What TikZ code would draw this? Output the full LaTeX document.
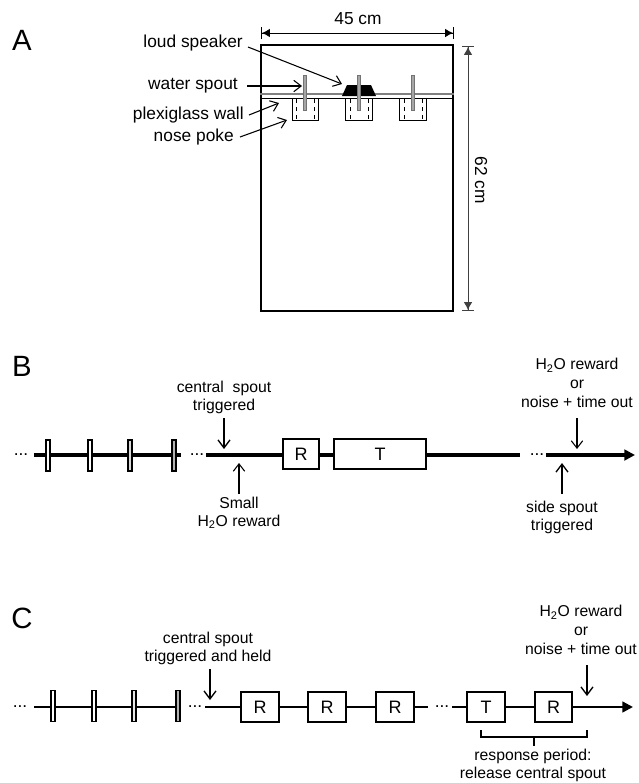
\documentclass[tikz,border=0pt]{standalone}
\usepackage{fontspec}
\setmainfont{Liberation Sans}
\usetikzlibrary{arrows.meta}
\tikzset{
  lab/.style={font=\fontsize{11.8}{13.5}\selectfont,inner sep=0pt,align=center},
  labA/.style={font=\fontsize{13}{15}\selectfont,inner sep=0pt,align=center},
  panel/.style={font=\fontsize{22}{24}\selectfont,inner sep=0pt},
  call/.style={line width=0.8pt,-{Straight Barb[length=5.5pt,width=8.5pt,line width=0.8pt]}},
  callb/.style={line width=1.3pt,-{Straight Barb[length=6pt,width=9pt,line width=1pt]}},
  track/.style={line width=2.3pt},
  thin track/.style={line width=1.8pt},
  epoch/.style={draw,line width=1.3pt,fill=white,font=\fontsize{13.5}{15}\selectfont,inner sep=0pt,minimum height=23pt},
  tick/.style={draw,line width=1.1pt,fill=#1,inner sep=0pt,minimum width=3.2pt,minimum height=23.5pt},
  dotsn/.style={font=\fontsize{13}{15}\selectfont,inner sep=0pt},
  spout/.style={draw=black!55,fill=gray!70,line width=0.4pt},
  poke/.style={draw,line width=0.7pt,fill=white},
  dim/.style={line width=0.7pt,{Bar[width=9pt]Latex[length=6pt,width=6.5pt]}-{Latex[length=6pt,width=6.5pt]Bar[width=9pt]}},
}
\begin{document}
\begin{tikzpicture}[x=0.75pt,y=-0.75pt]
\useasboundingbox (0,0) rectangle (639,783);
% Panel labels
\node[panel] at (22,40) {A};
\node[panel] at (22,366) {B};
\node[panel] at (22,618) {C};
% A: arena
\node[draw,line width=1.4pt,minimum width=144pt,minimum height=199.5pt,inner sep=0pt] (arena) at (357,178) {};
\draw[line width=0.8pt,gray] (arena.west |- 0,94) -- (arena.east |- 0,94);
\draw[line width=0.7pt] (arena.west |- 0,98) -- (arena.east |- 0,98);
% nose pokes
\foreach \n/\x in {a/305.5,b/359,c/413}{
  \node[poke,minimum width=20pt,minimum height=16.5pt,inner sep=0pt] (poke\n) at (\x,109) {};
  \draw[dashed,line width=0.5pt] (\x-9,99) -- (\x-9,120);
  \draw[dashed,line width=0.5pt] (\x+9,99) -- (\x+9,120);
}
% speaker
\fill (347,85) -- (371,85) -- (376,96) -- (342,96) -- cycle;
\coordinate (speaker) at (342,84);
% spouts
\foreach \n/\x in {a/305,b/359,c/413}{
  \node[spout,minimum width=2.4pt,minimum height=26pt,inner sep=0pt] (spout\n) at (\x,92.5) {};
}
% A dims
\coordinate (dl) at (261,33); \coordinate (dr) at (454,33);
\draw[dim] (dl) -- (dr);
\node[labA] (w) at (358,19) {45 cm};
\coordinate (dt) at (468,46); \coordinate (db) at (468,311);
\draw[dim,draw=black!75] (dt) -- (db);
\node[labA,rotate=-90] (h) at (481,180) {62 cm};
% A labels
\node[labA,anchor=east] (l1) at (243,43) {loud speaker};
\node[labA,anchor=east] (l2) at (238,86) {water spout};
\node[labA,anchor=east] (l3) at (244,115) {plexiglass wall};
\node[labA,anchor=east] (l4) at (234,137) {nose poke};
\coordinate (c1) at (248,47); \coordinate (c2) at (247,86); \coordinate (c3) at (249,115); \coordinate (c4) at (240,137);
\coordinate (t2) at (302,86); \coordinate (t3) at (279,103); \coordinate (t4) at (287,120);
\draw[call] (c1) -- (speaker);
\draw[call] (c2) -- (t2);
\draw[call] (c3) -- (t3);
\draw[call] (c4) -- (t4);
% B
\node[dotsn] (bd1) at (21,455) {...};
\node[dotsn] (bd2) at (197,455) {...};
\node[dotsn] (bd3) at (537,455) {...};
\coordinate (bs1) at (34,455); \coordinate (be1) at (181,455);
\coordinate (bs2) at (206,455); \coordinate (bs3) at (546,455); \coordinate (be3) at (635,455);
\coordinate (bm) at (520,455);
\draw[track] (bs1) -- (be1);
\foreach \n/\x/\c in {a/48/white,b/90/white,c/130/gray!30,d/174/gray!60}{
  \node[tick=\c] (bt\n) at (\x,455.5) {};
}
\node[epoch,minimum width=27.5pt] (br) at (301,454) {R};
\node[epoch,minimum width=69.5pt] (bT) at (380,454) {T};
\draw[track] (bs2) -- (br.west |- bs2);
\draw[track] (br.east |- bs2) -- (bT.west |- bs2);
\draw[track] (bT.east |- bs2) -- (bm);
\draw[track,-{Triangle[length=8pt,width=8pt]}] (bs3) -- (be3);
\node[lab] (b1) at (224,397) {central\ \ spout\\triggered};
\coordinate (b1a) at (224,418); \coordinate (b1b) at (224,449);
\draw[callb] (b1a) -- (b1b);
\node[lab] (b2) at (239,513) {Small\\H\textsubscript{2}O reward};
\coordinate (b2a) at (239,494); \coordinate (b2b) at (239,463);
\draw[call] (b2a) -- (b2b);
\node[lab] (b3) at (577,383) {H\textsubscript{2}O reward\\[0.75pt]or\\[0.75pt]noise + time out};
\coordinate (b3a) at (577,418); \coordinate (b3b) at (577,449);
\draw[call] (b3a) -- (b3b);
\node[lab] (b4) at (562,517) {side spout\\triggered};
\coordinate (b4a) at (562,494); \coordinate (b4b) at (562,463);
\draw[callb] (b4a) -- (b4b);
% C
\node[dotsn] (cd1) at (20,707) {...};
\node[dotsn] (cd2) at (195,707) {...};
\node[dotsn] (cd3) at (442,707) {...};
\coordinate (cs1) at (34,707); \coordinate (ce1) at (180,707);
\coordinate (cs2) at (205,707); \coordinate (cm1) at (428,707); \coordinate (cs3) at (452,707);
\coordinate (ce) at (633,707);
\draw[thin track] (cs1) -- (ce1);
\foreach \n/\x/\c in {a/53/white,b/94/white,c/134/gray!20,d/178/gray!60}{
  \node[tick=\c] (ct\n) at (\x,706) {};
}
\node[epoch,minimum width=28.5pt] (r1) at (260,707) {R};
\node[epoch,minimum width=28.5pt] (r2) at (327,707) {R};
\node[epoch,minimum width=28pt] (r3) at (395,707) {R};
\node[epoch,minimum width=28pt] (tt) at (486,707) {T};
\node[epoch,minimum width=28pt] (r4) at (553.5,707) {R};
\draw[thin track] (cs2) -- (r1);
\draw[thin track] (r1) -- (r2);
\draw[thin track] (r2) -- (r3);
\draw[thin track] (r3) -- (cm1);
\draw[thin track] (cs3) -- (tt);
\draw[thin track] (tt) -- (r4);
\draw[thin track,-{Triangle[length=8pt,width=8pt]}] (r4) -- (ce);
\node[lab] (c1t) at (208,648) {central spout\\triggered and held};
\coordinate (c1a) at (210,669); \coordinate (c1b) at (210,700);
\draw[callb] (c1a) -- (c1b);
\node[lab] (c2t) at (581,630) {H\textsubscript{2}O reward\\[0.75pt]or\\[0.75pt]noise + time out};
\coordinate (c2a) at (587,665); \coordinate (c2b) at (587,696);
\draw[callb] (c2a) -- (c2b);
\coordinate (bl) at (481,730); \coordinate (brr) at (587,730);
\draw[line width=1.1pt] (bl) -- (481,737) -- (587,737) -- (brr);
\draw[line width=1.6pt] (534,737) -- (534,746);
\node[lab] (c3t) at (533,765) {response period:\\release central spout};
\end{tikzpicture}
\end{document}
